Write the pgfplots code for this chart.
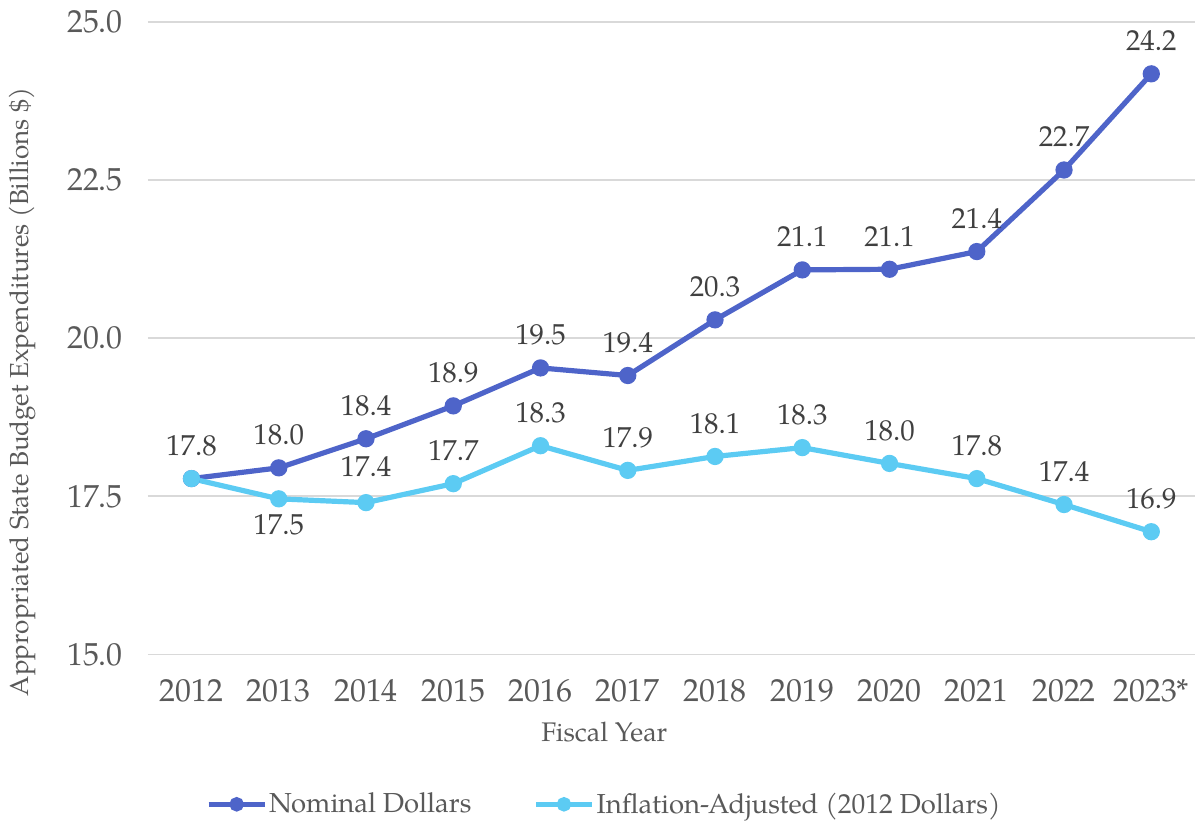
\documentclass[border=0pt]{standalone}
\usepackage{pgfplots}
\pgfplotsset{compat=1.18}
\usepackage{fontspec}
\setmainfont{TeX Gyre Pagella}
\definecolor{nomc}{HTML}{4E64C9}
\definecolor{infc}{HTML}{5CCBF3}
\definecolor{gridc}{HTML}{D9D9D9}
\definecolor{tickc}{HTML}{595959}
\definecolor{lblc}{HTML}{404040}
\begin{document}
\begin{tikzpicture}
\begin{axis}[
  at={(0,0)}, anchor=south west,
  scale only axis, width=524bp, height=316.5bp,
  xmin=-0.5, xmax=11.5, ymin=15, ymax=25,
  xtick={0,...,11},
  xticklabels={2012,2013,2014,2015,2016,2017,2018,2019,2020,2021,2022,2023*},
  ytick={15,17.5,20,22.5,25},
  yticklabel style={/pgf/number format/fixed, /pgf/number format/fixed zerofill, /pgf/number format/precision=1},
  /pgf/number format/assume math mode=true,
  axis line style={draw=none},
  major tick length=0pt,
  ymajorgrids, grid style={gridc, line width=0.9bp},
  tick label style={font=\fontsize{16}{19}\selectfont, text=tickc},
  xticklabel style={yshift=-9bp},
  yticklabel style={xshift=-9bp},
  xlabel={Fiscal Year}, ylabel={Appropriated State Budget Expenditures (Billions \$)},
  xlabel style={font=\fontsize{13.5}{16}\selectfont, text=tickc, at={(axis description cs:0.436,-0.123)}, anchor=center},
  ylabel style={font=\fontsize{13.1}{16}\selectfont, text=tickc, at={(axis description cs:-0.12,0.415)}, anchor=center},
  legend columns=2,
  legend style={at={(axis description cs:0.436,-0.237)}, anchor=center, draw=none, fill=none,
    font=\fontsize{13.8}{17}\selectfont, text=tickc, nodes={inner xsep=1bp},
    /tikz/every even column/.append style={column sep=30bp}},
  legend image code/.code={\draw[mark repeat=2,mark phase=2,mark size=2.3bp] plot coordinates {(0bp,0bp)(14bp,0bp)(28bp,0bp)};},
  nodes near coords={\ifdim\lblpos pt=0pt\else\pgfmathprintnumber{\pgfplotspointmeta}\fi},
  visualization depends on={\thisrow{pos} \as \lblpos},
  every node near coord/.append style={anchor=center, yshift=\lblpos pt, font=\fontsize{14.5}{17}\selectfont, text=lblc,
    /pgf/number format/fixed, /pgf/number format/fixed zerofill, /pgf/number format/precision=1},
]
\addplot[nomc, line width=2.6bp, mark=*, mark size=3bp, mark options={fill=nomc, draw=nomc}] table[x=x,y=y] {
x y pos
0 17.78 16.5
1 17.95 16.5
2 18.41 16.5
3 18.93 16.5
4 19.53 16.5
5 19.41 16.5
6 20.29 16.5
7 21.08 16.5
8 21.09 16.5
9 21.37 16.5
10 22.66 16.5
11 24.18 16.5
};
\addlegendentry{Nominal Dollars}
\addplot[infc, line width=2.6bp, mark=*, mark size=3bp, mark options={fill=infc, draw=infc}] table[x=x,y=y] {
x y pos
0 17.78 0
1 17.46 -13
2 17.40 18
3 17.70 16.5
4 18.30 16.5
5 17.91 16.5
6 18.13 16.5
7 18.27 16.5
8 18.02 16.5
9 17.78 16.5
10 17.37 16.5
11 16.94 16.5
};
\addlegendentry{Inflation-Adjusted (2012 Dollars)}
\end{axis}
\useasboundingbox (-74bp,-84.5bp) rectangle (524bp,327.5bp);
\end{tikzpicture}
\end{document}
